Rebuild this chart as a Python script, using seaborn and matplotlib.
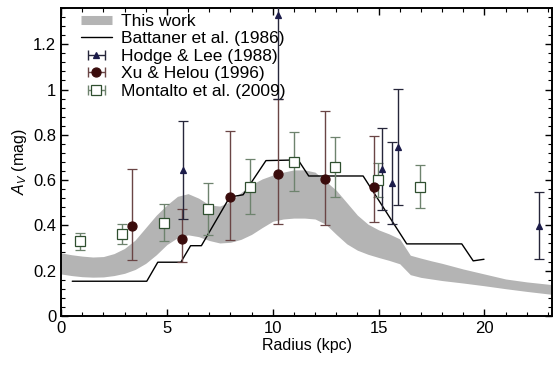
import numpy as np
import pandas as pd
import matplotlib
matplotlib.use("Agg")
import matplotlib.pyplot as plt
from matplotlib.ticker import MultipleLocator
from matplotlib.lines import Line2D
from matplotlib.collections import LineCollection
from matplotlib.container import ErrorbarContainer
import seaborn as sns

# Banda "This work" (radio en kpc, A_V en mag)
banda_x = [0, 0.5, 1, 1.5, 2, 2.5, 3, 3.5, 4, 4.5, 5, 5.5, 6, 6.5, 7, 7.5, 8, 8.5,
           9, 9.5, 10, 10.5, 11, 11.5, 12, 12.5, 13, 13.5, 14, 14.5, 15, 15.5, 16,
           16.5, 17, 17.5, 18, 19, 20, 21, 22, 23.2]
banda_sup = [0.278, 0.27, 0.264, 0.26, 0.262, 0.275, 0.298, 0.335, 0.39, 0.445, 0.49,
             0.528, 0.54, 0.52, 0.49, 0.485, 0.505, 0.545, 0.58, 0.605, 0.622, 0.635,
             0.645, 0.645, 0.635, 0.595, 0.555, 0.5, 0.445, 0.405, 0.38, 0.362, 0.34,
             0.268, 0.255, 0.243, 0.232, 0.207, 0.185, 0.163, 0.15, 0.138]
banda_inf = [0.185, 0.178, 0.173, 0.171, 0.172, 0.178, 0.188, 0.205, 0.232, 0.27, 0.315,
             0.345, 0.358, 0.35, 0.333, 0.322, 0.325, 0.338, 0.36, 0.39, 0.418, 0.428,
             0.432, 0.432, 0.428, 0.405, 0.36, 0.318, 0.29, 0.272, 0.258, 0.245, 0.23,
             0.182, 0.17, 0.163, 0.156, 0.145, 0.133, 0.12, 0.108, 0.095]

# Battaner et al. (1986)
battaner_x = [0.53, 4.05, 4.57, 5.66, 6.12, 6.63, 7.97, 8.6, 9.68, 11.2, 11.7, 14.27,
              16.33, 18.93, 19.47, 19.98]
battaner_y = [0.153, 0.153, 0.237, 0.237, 0.31, 0.31, 0.525, 0.535, 0.686, 0.689,
              0.618, 0.618, 0.318, 0.318, 0.243, 0.25]

# Hodge & Lee (1988)
hodge_x = [5.74, 10.23, 15.16, 15.63, 15.93, 22.57]
hodge_y = [0.645, 1.33, 0.648, 0.586, 0.747, 0.399]
hodge_err = [0.215, 0.37, 0.18, 0.18, 0.255, 0.147]

# Xu & Helou (1996)
xu_x = [3.37, 5.72, 7.96, 10.23, 12.48, 14.77]
xu_y = [0.397, 0.338, 0.527, 0.626, 0.603, 0.569]
xu_err_inf = [0.15, 0.1, 0.19, 0.22, 0.20, 0.155]
xu_err_sup = [0.25, 0.133, 0.29, 0.33, 0.30, 0.227]

# Montalto et al. (2009)
montalto_x = [0.9, 2.87, 4.87, 6.93, 8.94, 11.02, 12.95, 14.97, 16.97]
montalto_y = [0.33, 0.362, 0.412, 0.474, 0.571, 0.681, 0.659, 0.60, 0.571]
montalto_err = [0.037, 0.046, 0.081, 0.115, 0.123, 0.13, 0.133, 0.077, 0.094]

etiquetas = ['This work', 'Battaner et al. (1986)', 'Hodge & Lee (1988)',
             'Xu & Helou (1996)', 'Montalto et al. (2009)']

sns.set_theme(style="ticks")
plt.rcParams['font.family'] = ['Liberation Sans', 'DejaVu Sans']
plt.rcParams['mathtext.fontset'] = 'custom'
plt.rcParams['mathtext.rm'] = 'Liberation Sans'
plt.rcParams['mathtext.it'] = 'Liberation Sans:italic'
plt.rcParams['text.color'] = 'black'
plt.rcParams['axes.labelcolor'] = 'black'

fig = plt.figure(figsize=(5.6, 3.66), dpi=100)
ax = fig.add_axes([0.109, 0.137, 0.877, 0.841])

gris = '#b4b4b4'
ax.fill_between(banda_x, banda_inf, banda_sup, color=gris, lw=0, zorder=1)

df_bat = pd.DataFrame({'r': battaner_x, 'av': battaner_y})
sns.lineplot(data=df_bat, x='r', y='av', sort=False, color='black', lw=1.0,
             ax=ax, zorder=3)

estilos = {
    'mon': dict(marker='s', ms=6.5, mfc='white', mec='#2f4f2f', mew=0.9, ecolor='#6e836e'),
    'xu': dict(marker='o', ms=6.5, mfc='#3a0c0c', mec='#3a0c0c', mew=0.9, ecolor='#6a4545'),
    'hodge': dict(marker='^', ms=4.5, mfc='#1c1c4a', mec='#1c1c4a', mew=0.9, ecolor='#26263a'),
}

def dibujar(x, y, err, e):
    ax.errorbar(x, y, yerr=err, fmt=e['marker'], ms=e['ms'], mfc=e['mfc'],
                mec=e['mec'], mew=e['mew'], ecolor=e['ecolor'], elinewidth=1.0,
                capsize=3.5, capthick=1.0, zorder=5)

dibujar(montalto_x, montalto_y, montalto_err, estilos['mon'])
dibujar(xu_x, xu_y, [xu_err_inf, xu_err_sup], estilos['xu'])
dibujar(hodge_x, hodge_y, hodge_err, estilos['hodge'])


def handle_errorbar(e):
    """Entrada de leyenda con barra horizontal y topes, como en la figura original."""
    linea = Line2D([], [], ls='none', marker=e['marker'], ms=e['ms'], mfc=e['mfc'],
                   mec=e['mec'], mew=e['mew'])
    tope = Line2D([], [], ls='none', marker='|', ms=7, mew=1.0, color=e['ecolor'])
    barra = LineCollection([], colors=e['ecolor'], linewidths=1.0)
    return ErrorbarContainer((linea, (tope, tope), (barra,)),
                             has_xerr=True, has_yerr=False)


h_banda = Line2D([], [], color=gris, lw=6.5, solid_capstyle='butt')
h_bat = Line2D([], [], color='black', lw=1.0)
handles = [h_banda, h_bat, handle_errorbar(estilos['hodge']),
           handle_errorbar(estilos['xu']), handle_errorbar(estilos['mon'])]
ax.legend(handles, etiquetas, loc='upper left', bbox_to_anchor=(0.02, 1.015),
          frameon=False, fontsize=12.5, handlelength=1.75, handletextpad=0.55,
          labelspacing=0.13, borderaxespad=0.2, labelcolor='black')

ax.set_xlim(0, 23.2)
ax.set_ylim(0, 1.36)
ax.xaxis.set_major_locator(MultipleLocator(5))
ax.xaxis.set_minor_locator(MultipleLocator(1))
ax.yaxis.set_major_locator(MultipleLocator(0.2))
ax.yaxis.set_minor_locator(MultipleLocator(0.04))
ax.yaxis.set_major_formatter(plt.FuncFormatter(lambda v, p: f"{v:g}"))
ax.tick_params(which='both', direction='in', top=True, right=True, colors='black',
               labelsize=12)
ax.tick_params(which='major', length=5, width=1.0)
ax.tick_params(which='minor', length=3, width=0.8)
for s in ax.spines.values():
    s.set_linewidth(1.4)
    s.set_color('black')

ax.set_xlabel('Radius (kpc)', fontsize=11.5, labelpad=2)
ax.set_ylabel('$A_V$ (mag)', fontsize=11.5, labelpad=3)

fig.savefig('out.png', dpi=100)
